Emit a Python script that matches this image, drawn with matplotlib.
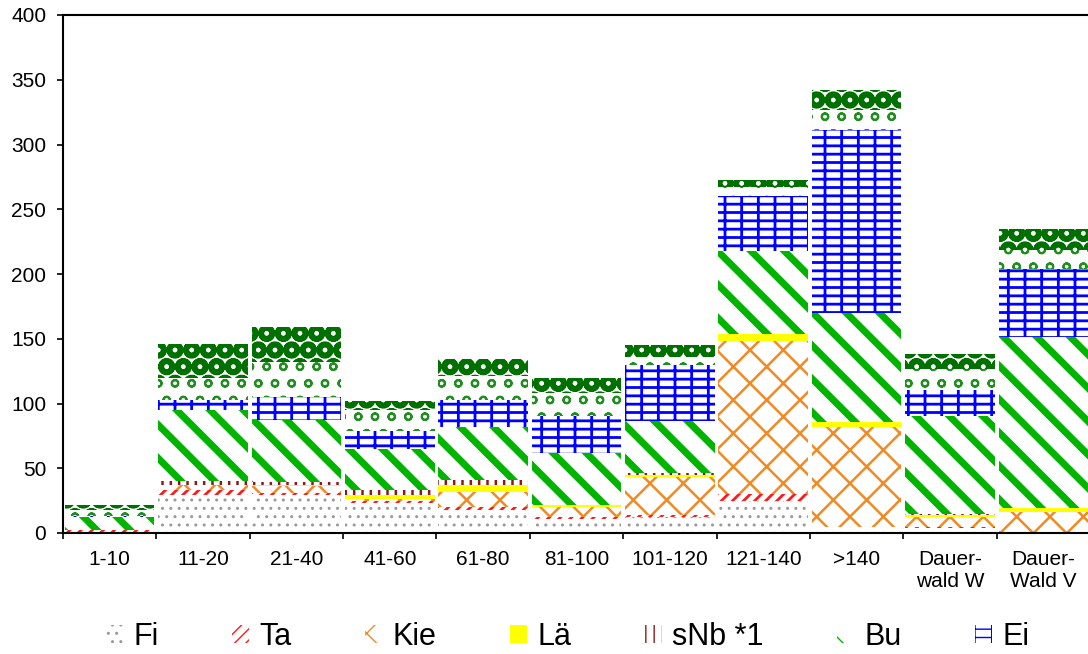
import matplotlib.pyplot as plt
import numpy as np

plt.rcParams['font.family'] = ['Liberation Sans', 'DejaVu Sans']

# Age classes / stand types on the x axis
categories = ['1-10', '11-20', '21-40', '41-60', '61-80', '81-100',
              '101-120', '121-140', '>140', 'Dauer-\nwald W', 'Dauer-\nWald V']

# Volume per tree species, stacked from bottom to top
fi = [0, 29, 29, 23, 18, 10.5, 12, 25, 5, 4, 1]
ta = [2, 4, 2, 2, 2, 1.5, 2, 5.5, 0, 0.5, 0]
kie = [0, 4, 5, 1, 12, 8, 29.5, 118, 77, 8, 15.5]
lae = [0, 0, 1, 3, 5, 2, 1.5, 5.5, 4, 1.5, 3]
snb = [0, 3, 2, 4, 4, 0, 1.5, 0, 0, 0.5, 0]
bu = [10.5, 55, 48, 31.5, 41, 40, 40, 64, 84, 75.5, 131.5]
ei = [1, 8, 18, 14.5, 21, 28, 43, 42, 141, 20.5, 52.5]
alh = [4, 17, 27, 16, 18, 18, 6.5, 7, 16, 16, 15]
aln = [4.5, 26, 27, 7, 13, 12, 9, 5.5, 15, 11.5, 16.5]

# name, values, hatch colour, face colour, hatch, hatch line width
layers = [
    ('Fi', fi, '#9a9a9a', 'white', '..', 1.0),
    ('Ta', ta, '#ff1a1a', 'white', '///', 2.0),
    ('Kie', kie, '#f08a24', 'white', 'x', 1.8),
    ('Lä', lae, '#ffff00', '#ffff00', None, 1.0),
    ('sNb *1', snb, '#8b1a1a', 'white', '||', 1.8),
    ('Bu', bu, '#00b400', 'white', '\\', 5.0),
    ('Ei', ei, '#0000ff', 'white', '+-', 2.0),
    ('ALh', alh, '#1f8f1f', 'white', 'o', 1.5),
    ('ALn', aln, '#007000', 'white', 'O', 4.0),
]

fig = plt.figure(figsize=(10.88, 6.54), dpi=100)
ax = fig.add_axes([63 / 1088, 121 / 654, 1027 / 1088, 518 / 654])

x = np.arange(len(categories))
bottom = np.zeros(len(categories))
handles = []
for name, vals, col, face, hatch, hlw in layers:
    vals = np.array(vals, dtype=float)
    with plt.rc_context({'hatch.linewidth': hlw}):
        bars = ax.bar(x, vals, 0.96, bottom=bottom, facecolor=face,
                      edgecolor=col, linewidth=0, hatch=hatch, label=name)
    for p in bars:
        if hasattr(p, 'set_hatch_linewidth'):
            p.set_hatch_linewidth(hlw)
    handles.append(bars)
    bottom += vals

ax.set_xlim(-0.5, 10.5)
ax.set_ylim(0, 400)
ax.set_yticks(np.arange(0, 401, 50))
ax.set_xticks(x)
ax.set_xticklabels(categories)
ax.set_xticks(np.arange(-0.5, 11, 1), minor=True)
ax.tick_params(axis='x', which='major', length=0, pad=12, labelsize=15)
ax.tick_params(axis='x', which='minor', length=4, width=1.2, direction='out')
ax.tick_params(axis='y', length=4, width=1.2, pad=8, labelsize=15)
for s in ax.spines.values():
    s.set_linewidth(1.5)

fig.legend(handles[:7], [l[0] for l in layers[:7]], loc='upper left',
           bbox_to_anchor=(106 / 1088, 32 / 654), ncol=7, frameon=False,
           fontsize=22, handlelength=0.55, handleheight=0.55,
           handletextpad=0.35, columnspacing=2.4, borderpad=0,
           borderaxespad=0)

fig.savefig('out.png', dpi=100)
